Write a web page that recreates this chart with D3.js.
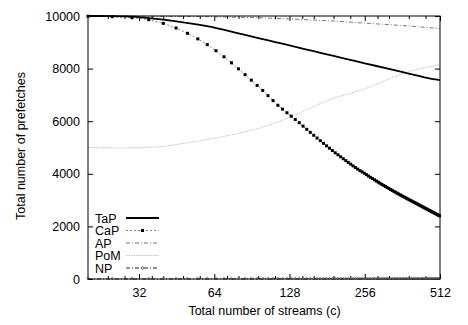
<!DOCTYPE html>
<html>
<head>
<meta charset="utf-8">
<script src="https://cdn.jsdelivr.net/npm/d3@7"></script>
<style>
  html, body { margin: 0; padding: 0; background: #fff; }
  svg { display: block; }
  text { font-family: "Liberation Sans", Arial, Helvetica, sans-serif; font-size: 12.5px; fill: #000; }
</style>
</head>
<body>
<svg id="chart" width="468" height="325"></svg>
<script>
// ---------------- data ----------------
const seriesNames = ["TaP", "CaP", "AP", "PoM", "NP"];

const xTicks = [32, 64, 128, 256, 512];
const xMinorTicks = [24, 28, 36, 40, 48, 56, 72, 80, 96, 112, 144, 160, 192, 224, 288, 320, 384, 448];
const yTicks = [0, 2000, 4000, 6000, 8000, 10000];

// TaP (solid)
const tapC = [20, 24, 28, 32, 40, 48, 56, 64, 80, 96, 112, 128, 160, 192, 224, 256, 320, 384, 448, 512];
const tapValues = [10000, 9998, 9985, 9955, 9860, 9760, 9660, 9560, 9340, 9160, 9010, 8880, 8660, 8480, 8330, 8200, 7990, 7810, 7660, 7560];

// AP (dash-dot)
const apC = [20, 32, 48, 64, 96, 128, 192, 256, 384, 512];
const apValues = [10000, 9995, 9985, 9970, 9935, 9890, 9810, 9730, 9620, 9520];

// PoM (dotted, light grey)
const pomC = [20, 24, 28, 32, 40, 48, 56, 64, 80, 96, 112, 128, 160, 192, 224, 256, 320, 384, 448, 512];
const pomValues = [5000, 4990, 4985, 4990, 5040, 5150, 5260, 5350, 5530, 5720, 5930, 6140, 6560, 6880, 7060, 7230, 7600, 7900, 8040, 8150];

// CaP and NP are sampled every 5 streams
const stepC = [20, 25, 30, 35, 40, 45, 50, 55, 60, 65, 70, 75, 80, 85, 90, 95, 100,
  105, 110, 115, 120, 125, 130, 135, 140, 145, 150, 155, 160, 165, 170, 175, 180, 185, 190, 195, 200,
  205, 210, 215, 220, 225, 230, 235, 240, 245, 250, 255, 260, 265, 270, 275, 280, 285, 290, 295, 300,
  305, 310, 315, 320, 325, 330, 335, 340, 345, 350, 355, 360, 365, 370, 375, 380, 385, 390, 395, 400,
  405, 410, 415, 420, 425, 430, 435, 440, 445, 450, 455, 460, 465, 470, 475, 480, 485, 490, 495, 500,
  505, 510];
const capValues = [9990, 9975, 9935, 9860, 9720, 9544, 9342, 9130, 8910, 8680, 8450, 8220, 7990, 7770, 7560, 7360, 7170,
  6972, 6784, 6605, 6459, 6321, 6193, 6065, 5942, 5813, 5691, 5576, 5465, 5360, 5258, 5159, 5063, 4973, 4884, 4799, 4724,
  4646, 4573, 4501, 4432, 4364, 4299, 4237, 4178, 4119, 4073, 4020, 3967, 3915, 3865, 3818, 3771, 3725, 3681, 3637, 3596,
  3555, 3516, 3477, 3439, 3403, 3367, 3331, 3297, 3263, 3230, 3197, 3166, 3135, 3106, 3075, 3046, 3017, 2988, 2961, 2934,
  2907, 2880, 2854, 2828, 2802, 2776, 2750, 2726, 2700, 2676, 2652, 2628, 2605, 2581, 2558, 2535, 2512, 2489, 2466, 2445,
  2424, 2403];
const npValues = [0, 0, 0, 0, 0, 0, 0, 0, 0, 0, 0, 0, 0, 0, 0, 0, 0,
  0, 0, 0, 0, 0, 0, 0, 0, 0, 0, 0, 0, 0, 0, 0, 0, 0, 0, 0, 0,
  0, 0, 0, 0, 0, 0, 0, 0, 0, 0, 0, 0, 0, 0, 0, 0, 0, 0, 0, 0,
  0, 0, 0, 0, 0, 0, 0, 0, 0, 0, 0, 0, 0, 0, 0, 0, 0, 0, 0, 0,
  0, 0, 0, 0, 0, 0, 0, 0, 0, 0, 0, 0, 0, 0, 0, 0, 0, 0, 0, 0,
  0, 0];

// ---------------- layout ----------------
const mLeft = 88, mRight = 440, mTop = 16, mBottom = 279;
const svg = d3.select("#chart");

const x = d3.scaleLog().base(2).domain([20, 512]).range([mLeft, mRight]);
const y = d3.scaleLinear().domain([0, 10000]).range([mBottom, mTop]);

const zip = (cs, vs) => cs.map((c, i) => ({ c: c, v: vs[i] }));

// axes (ticks inward, gnuplot style)
const gB = svg.append("g").attr("transform", `translate(0,${mBottom})`)
  .call(d3.axisBottom(x).tickValues(xTicks).tickFormat(d3.format("d")).tickSize(-5).tickPadding(9));
const gBm = svg.append("g").attr("transform", `translate(0,${mBottom})`)
  .call(d3.axisBottom(x).tickValues(xMinorTicks).tickFormat("").tickSize(-3));
const gT = svg.append("g").attr("transform", `translate(0,${mTop})`)
  .call(d3.axisTop(x).tickValues(xTicks).tickFormat("").tickSize(-5));
const gTm = svg.append("g").attr("transform", `translate(0,${mTop})`)
  .call(d3.axisTop(x).tickValues(xMinorTicks).tickFormat("").tickSize(-3));
const gL = svg.append("g").attr("transform", `translate(${mLeft},0)`)
  .call(d3.axisLeft(y).tickValues(yTicks).tickFormat(d3.format("d")).tickSize(-5).tickPadding(8));
const gR = svg.append("g").attr("transform", `translate(${mRight},0)`)
  .call(d3.axisRight(y).tickValues(yTicks).tickFormat("").tickSize(-5));

[gB, gBm, gT, gTm, gL, gR].forEach(g => {
  g.select(".domain").remove();
  g.attr("font-size", null).attr("font-family", null);
  g.selectAll(".tick line").attr("stroke", "#000").attr("stroke-width", 1);
});

// ---------------- series ----------------
const plot = svg.append("g");
const line = d3.line().x(d => x(d.c)).y(d => y(d.v));

// PoM
plot.append("path").datum(zip(pomC, pomValues))
  .attr("d", line).attr("fill", "none").attr("stroke", "#c4c4c4").attr("stroke-width", 1)
  .attr("stroke-dasharray", "1.5,1");

// AP
plot.append("path").datum(zip(apC, apValues))
  .attr("d", line).attr("fill", "none").attr("stroke", "#777").attr("stroke-width", 1)
  .attr("stroke-dasharray", "4,2,1,2");

// NP
const npData = zip(stepC, npValues);
plot.append("path").datum(npData)
  .attr("d", line).attr("fill", "none").attr("stroke", "#222").attr("stroke-width", 1)
  .attr("stroke-dasharray", "4,2,1,2");
plot.selectAll("circle.np").data(npData).enter().append("circle").attr("class", "np")
  .attr("cx", d => x(d.c)).attr("cy", d => y(d.v) - 0.5).attr("r", 1)
  .attr("fill", "#fff").attr("stroke", "#333").attr("stroke-width", 0.6);

// CaP
const capData = zip(stepC, capValues);
plot.append("path").datum(capData)
  .attr("d", line).attr("fill", "none").attr("stroke", "#888").attr("stroke-width", 1)
  .attr("stroke-dasharray", "2,2");
plot.selectAll("rect.cap").data(capData).enter().append("rect").attr("class", "cap")
  .attr("x", d => x(d.c) - 1.5).attr("y", d => y(d.v) - 1.5).attr("width", 3).attr("height", 3)
  .attr("fill", "#000");

// TaP
plot.append("path").datum(zip(tapC, tapValues))
  .attr("d", d3.line().x(d => x(d.c)).y(d => y(d.v)).curve(d3.curveMonotoneX))
  .attr("fill", "none").attr("stroke", "#000").attr("stroke-width", 1.8);

// frame
svg.append("rect").attr("x", mLeft).attr("y", mTop).attr("width", mRight - mLeft).attr("height", mBottom - mTop)
  .attr("fill", "none").attr("stroke", "#000").attr("stroke-width", 1);

// ---------------- legend ----------------
const legendY = [218, 230.5, 243, 255.5, 268];
const leg = svg.append("g");
seriesNames.forEach((name, i) => {
  const yy = legendY[i];
  leg.append("text").attr("x", 95).attr("y", yy + 4.5).text(name);
  const ln = leg.append("line").attr("x1", 126).attr("x2", 159).attr("y1", yy).attr("y2", yy).attr("fill", "none");
  if (name === "TaP") ln.attr("stroke", "#000").attr("stroke-width", 1.8);
  if (name === "CaP") {
    ln.attr("stroke", "#888").attr("stroke-dasharray", "2,2");
    leg.append("rect").attr("x", 141).attr("y", yy - 1.5).attr("width", 3).attr("height", 3).attr("fill", "#000");
  }
  if (name === "AP") ln.attr("stroke", "#777").attr("stroke-dasharray", "4,2,1,2");
  if (name === "PoM") ln.attr("stroke", "#c4c4c4").attr("stroke-dasharray", "1.5,1");
  if (name === "NP") {
    ln.attr("stroke", "#222").attr("stroke-dasharray", "4,2,1,2");
    leg.append("circle").attr("cx", 142.5).attr("cy", yy).attr("r", 1.3)
      .attr("fill", "#fff").attr("stroke", "#333").attr("stroke-width", 0.7);
  }
});

// ---------------- titles ----------------
svg.append("text").attr("x", 264.5).attr("y", 314.5).attr("text-anchor", "middle")
  .text("Total number of streams (c)");
svg.append("text").attr("transform", "translate(25,146) rotate(-90)").attr("text-anchor", "middle")
  .text("Total number of prefetches");
</script>
</body>
</html>
